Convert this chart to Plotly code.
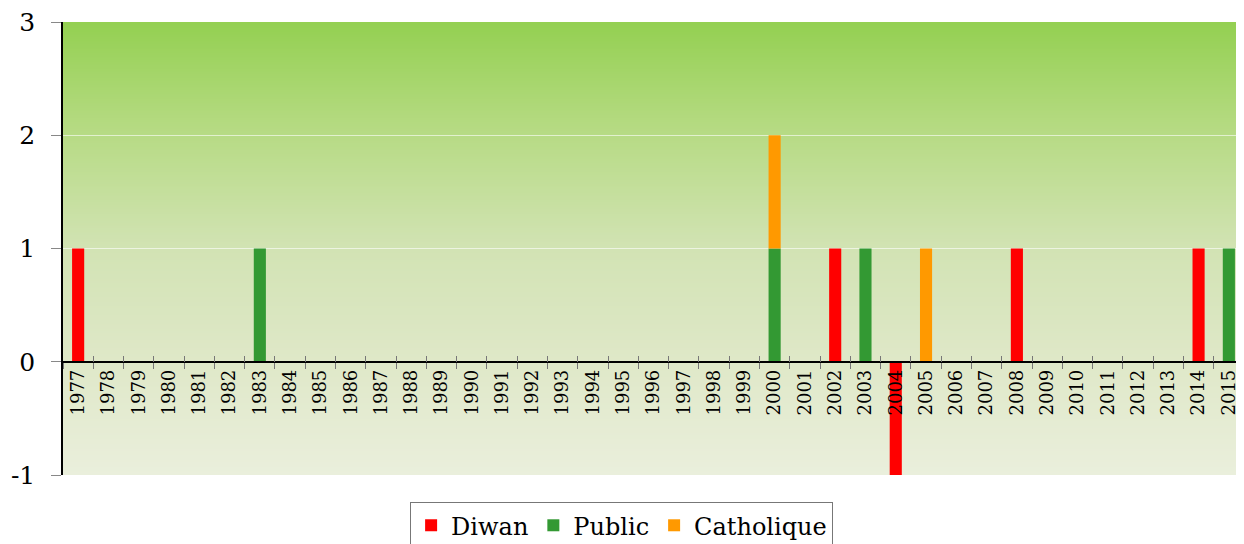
import base64, struct, zlib
import plotly.graph_objects as go

years = [str(y) for y in range(1977, 2016)]
diwan = {"1977": 1, "2002": 1, "2004": -1, "2008": 1, "2014": 1}
public = {"1983": 1, "2000": 1, "2003": 1, "2015": 1}
catholique = {"2000": 1, "2005": 1}

diwan_vals = [diwan.get(y, 0) for y in years]
public_vals = [public.get(y, 0) for y in years]
catholique_vals = [catholique.get(y, 0) for y in years]

y_ticks = [-1, 0, 1, 2, 3]
y_ticktext = ["-1", "0", "1", "2", "3"]

SERIF = "DejaVu Serif"

# vertical gradient background image (top -> bottom)
stops = [(0.0, (0x94, 0xd0, 0x52)), (0.22, (0xb4, 0xda, 0x80)), (0.5, (0xd2, 0xe3, 0xb4)),
         (0.75, (0xdf, 0xe8, 0xc8)), (1.0, (0xea, 0xef, 0xdc))]

def color_at(t):
    for (t0, c0), (t1, c1) in zip(stops, stops[1:]):
        if t0 <= t <= t1:
            f = (t - t0) / (t1 - t0)
            return tuple(int(round(a + (b - a) * f)) for a, b in zip(c0, c1))
    return stops[-1][1]

H = 256
raw = b"".join(b"\x00" + bytes(color_at(i / (H - 1))) for i in range(H))

def chunk(tag, data):
    c = struct.pack(">I", len(data)) + tag + data
    return c + struct.pack(">I", zlib.crc32(tag + data) & 0xffffffff)

png = b"\x89PNG\r\n\x1a\n" + chunk(b"IHDR", struct.pack(">IIBBBBB", 1, H, 8, 2, 0, 0, 0)) \
      + chunk(b"IDAT", zlib.compress(raw)) + chunk(b"IEND", b"")
img_src = "data:image/png;base64," + base64.b64encode(png).decode()

fig = go.Figure()
fig.add_trace(go.Bar(x=years, y=diwan_vals, name="Diwan", marker_color="#ff0000", marker_line_width=0))
fig.add_trace(go.Bar(x=years, y=public_vals, name="Public", marker_color="#339933", marker_line_width=0))
fig.add_trace(go.Bar(x=years, y=catholique_vals, name="Catholique", marker_color="#ff9900", marker_line_width=0))
fig.add_trace(go.Scatter(x=[], y=[], xaxis="x2", showlegend=False, hoverinfo="skip"))

n = len(years)
fig.update_layout(
    width=1236, height=536,
    margin=dict(l=55, r=0, t=14, b=69, autoexpand=False),
    paper_bgcolor="white",
    plot_bgcolor="rgba(0,0,0,0)",
    barmode="relative",
    bargap=0.6,
    images=[dict(source=img_src, xref="paper", yref="paper", x=0, y=1, sizex=1, sizey=1,
                 sizing="stretch", layer="below")],
    xaxis=dict(
        type="category", categoryorder="array", categoryarray=years,
        range=[-0.5, n - 0.5], automargin=False,
        anchor="free", position=0.25,
        showline=True, linecolor="black", linewidth=1.5,
        ticks="outside", tickson="boundaries", ticklen=6, tickcolor="#777", tickwidth=1,
        tickangle=-90, tickfont=dict(family=SERIF, size=18, color="black"),
        ticklabeloverflow="allow",
        showgrid=False, zeroline=False,
    ),
    xaxis2=dict(
        overlaying="x", anchor="free", position=0.25,
        range=[-0.5, n - 0.5], automargin=False,
        tickvals=[k + 0.5 for k in range(n - 1)],
        ticks="inside", ticklen=6, tickcolor="#777", tickwidth=1,
        showticklabels=False, showgrid=False, zeroline=False, showline=False,
    ),
    yaxis=dict(
        range=[-1, 3], tickvals=y_ticks, ticktext=y_ticktext, automargin=False,
        showline=True, linecolor="black", linewidth=1.5,
        ticks="outside", ticklen=10, tickcolor="#888",
        ticklabelstandoff=11, ticklabeloverflow="allow",
        tickfont=dict(family=SERIF, size=25, color="black"),
        showgrid=True, gridcolor="rgba(255,255,255,0.6)", gridwidth=1,
        zeroline=False,
    ),
    legend=dict(
        orientation="h", x=0.473, xanchor="center", y=-0.06, yanchor="top",
        font=dict(family=SERIF, size=24, color="black"),
        bordercolor="#777", borderwidth=1, bgcolor="white",
        traceorder="normal",
    ),
    showlegend=True,
)

fig.write_html("out.html")
